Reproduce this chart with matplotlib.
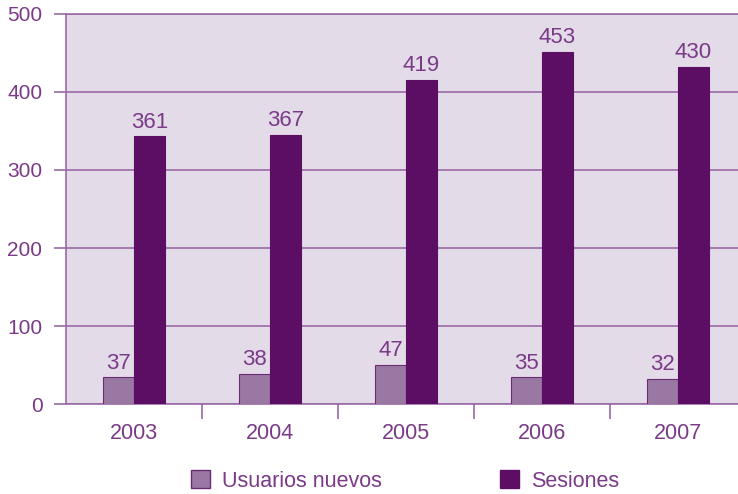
import matplotlib
matplotlib.use("Agg")
import matplotlib.pyplot as plt
from matplotlib.patches import Patch
import numpy as np

plt.rcParams['font.family'] = ['Liberation Sans', 'DejaVu Sans']

years = ["2003", "2004", "2005", "2006", "2007"]
# bar heights as drawn in the picture
usuarios = [34, 39, 50, 34, 32]
sesiones = [343, 345, 416, 451, 432]
# the numbers printed above the bars
usuarios_labels = ["37", "38", "47", "35", "32"]
sesiones_labels = ["361", "367", "419", "453", "430"]

TEXT = "#7a3a88"
LINE = "#9b6aa6"
BG = "#e3dbe8"
DARK = "#5c0d64"
LIGHT = "#9a78a4"

fig = plt.figure(figsize=(7.38, 4.94), dpi=100)
ax = fig.add_axes([66 / 738, 90 / 494, 680 / 738, 390 / 494])
ax.set_facecolor(BG)

x = np.arange(len(years))
w = 0.228
b1 = ax.bar(x - w / 2, usuarios, w, color=LIGHT, edgecolor="#6a2a74", linewidth=0.8, zorder=3)
b2 = ax.bar(x + w / 2, sesiones, w, color=DARK, edgecolor=DARK, linewidth=0.8, zorder=3)

for rect, lab in zip(b1, usuarios_labels):
    ax.text(rect.get_x() + rect.get_width() / 2, rect.get_height() + 5, lab,
            ha="center", va="bottom", fontsize=16, color=TEXT)
for rect, lab in zip(b2, sesiones_labels):
    ax.text(rect.get_x() + rect.get_width() / 2, rect.get_height() + 5, lab,
            ha="center", va="bottom", fontsize=16, color=TEXT)

ax.set_xlim(-0.5, 4.5)
ax.set_ylim(0, 500)
ax.set_yticks(range(0, 501, 100))
ax.yaxis.grid(True, color=LINE, linewidth=1.2, zorder=1)
ax.set_axisbelow(True)

ax.set_xticks(x)
ax.set_xticklabels(years)
ax.set_xticks(np.arange(0.5, 4.5, 1), minor=True)
ax.tick_params(axis="x", which="major", length=0, pad=14, labelsize=15.5, labelcolor=TEXT)
ax.tick_params(axis="x", which="minor", length=11, width=1.2, color=LINE)
ax.tick_params(axis="y", length=9, width=1.2, color=LINE, pad=8, labelsize=15, labelcolor=TEXT)

ax.spines["right"].set_visible(False)
for s in ["left", "bottom", "top"]:
    ax.spines[s].set_color(LINE)
    ax.spines[s].set_linewidth(1.2)

handles = [Patch(facecolor=LIGHT, edgecolor="#6a2a74", label="Usuarios nuevos"),
           Patch(facecolor=DARK, edgecolor=DARK, label="Sesiones")]
fig.legend(handles=handles, loc="center", bbox_to_anchor=(405 / 738, 13 / 494),
           ncol=2, frameon=False, fontsize=15.5, labelcolor=TEXT,
           handlelength=0.9, handleheight=0.9, handletextpad=0.55, columnspacing=5.5)

fig.savefig("out.png", dpi=100)
